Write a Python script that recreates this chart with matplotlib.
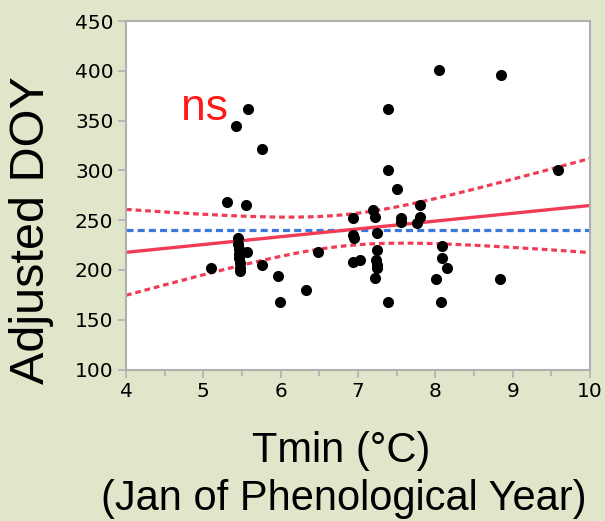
import numpy as np
import matplotlib
matplotlib.use("Agg")
import matplotlib.pyplot as plt
from matplotlib.ticker import MultipleLocator

# Tmin (Jan of phenological year) vs adjusted DOY
tmin = [5.10, 5.42, 5.58, 5.76, 5.31, 5.55,
        5.45, 5.45, 5.46, 5.46, 5.46, 5.47, 5.47, 5.47,
        5.56, 5.76, 5.97, 5.99, 6.33, 6.48,
        6.94, 6.94, 6.95, 6.94, 7.03,
        7.19, 7.22, 7.24, 7.24, 7.23, 7.24, 7.24, 7.22,
        7.39, 7.39, 7.39, 7.50, 7.56, 7.56, 7.80, 7.80, 7.76,
        8.05, 8.85, 9.59, 8.01, 8.07, 8.09, 8.09, 8.15, 8.84]
doy = [202, 345, 362, 321, 268, 265,
       232, 226, 221, 216, 212, 207, 202, 199,
       218, 205, 194, 168, 180, 218,
       252, 235, 232, 208, 210,
       260, 253, 237, 220, 210, 205, 202, 192,
       168, 362, 300, 281, 252, 248, 265, 253, 247,
       401, 396, 300, 191, 168, 224, 212, 202, 191]

bg = "#dfe6c9"
red = "#f03c55"
blue = "#3a78e0"

x = np.array(tmin)
y = np.array(doy)
n = len(x)
slope, intercept = np.polyfit(x, y, 1)
resid = y - (intercept + slope * x)
s = np.sqrt(np.sum(resid ** 2) / (n - 2))
sxx = np.sum((x - x.mean()) ** 2)
tval = 2.007  # t(0.975, ~50 df)

xs = np.linspace(4, 10, 200)
fit = intercept + slope * xs
hw = tval * s * np.sqrt(1.0 / n + (xs - x.mean()) ** 2 / sxx)

fig = plt.figure(figsize=(6.05, 5.21), dpi=100, facecolor=bg)
ax = fig.add_axes([126 / 605, 1 - 369.5 / 521, 464 / 605, 348.5 / 521])
ax.set_facecolor("white")

ax.axhline(y.mean(), color=blue, lw=2.3, ls=(0, (2.2, 1.3)), zorder=2)
ax.plot(xs, fit, color=red, lw=2.4, zorder=2)
ax.plot(xs, fit + hw, color=red, lw=2.3, ls=(0, (1.8, 1.2)), zorder=2)
ax.plot(xs, fit - hw, color=red, lw=2.3, ls=(0, (1.8, 1.2)), zorder=2)
ax.scatter(x, y, s=64, color="black", zorder=3, linewidths=0)

ax.text(4.71, 351, "ns", color="#ff1a1a", fontsize=32, family="Liberation Sans")

ax.set_xlim(4, 10)
ax.set_ylim(100, 450)
ax.xaxis.set_major_locator(MultipleLocator(1))
ax.xaxis.set_minor_locator(MultipleLocator(0.5))
ax.yaxis.set_major_locator(MultipleLocator(50))
for sp in ax.spines.values():
    sp.set_color("#b0b0b0")
    sp.set_linewidth(1.5)
ax.tick_params(which="both", color="#b0b0b0", width=1.2, labelsize=14.5, pad=3)
ax.tick_params(which="major", length=6)
ax.tick_params(which="minor", length=4)

fig.text(0.052, 1 - 230 / 521, "Adjusted DOY", rotation=90, ha="center", va="center",
         fontsize=35, family="Liberation Sans")
fig.text(341 / 605, 1 - 462 / 521, "Tmin (°C)", ha="center", va="baseline",
         fontsize=30, family="Liberation Sans")
fig.text(344 / 605, 1 - 510 / 521, "(Jan of Phenological Year)", ha="center", va="baseline",
         fontsize=30, family="Liberation Sans")

fig.savefig("out.png", dpi=100, facecolor=bg)
